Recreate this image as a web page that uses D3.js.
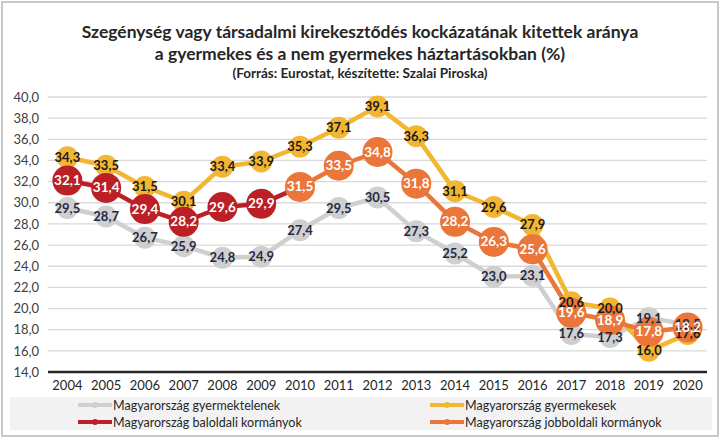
<!DOCTYPE html>
<html><head><meta charset="utf-8">
<script src="https://cdn.jsdelivr.net/npm/d3@7"></script>
<style>body{margin:0;background:#fff;font-family:Lato,"Open Sans",sans-serif}</style>
</head><body><svg id="c" width="720" height="438"></svg>
<script>
const years = ["2004","2005","2006","2007","2008","2009","2010","2011","2012","2013","2014","2015","2016","2017","2018","2019","2020"];
const childless = [29.5,28.7,26.7,25.9,24.8,24.9,27.4,29.5,30.5,27.3,25.2,23.0,23.1,17.6,17.3,19.1,18.5];
const withChildren = [34.3,33.5,31.5,30.1,33.4,33.9,35.3,37.1,39.1,36.3,31.1,29.6,27.9,20.6,20.0,16.0,17.6];
const leftYears = ["2004","2005","2006","2007","2008","2009"];
const leftGov = [32.1,31.4,29.4,28.2,29.6,29.9];
const rightYears = ["2010","2011","2012","2013","2014","2015","2016","2017","2018","2019","2020"];
const rightGov = [31.5,33.5,34.8,31.8,28.2,26.3,25.6,19.6,18.9,17.8,18.2];
const yTicks = [14,16,18,20,22,24,26,28,30,32,34,36,38,40];
const legendNames = ["Magyarország gyermektelenek","Magyarország gyermekesek","Magyarország baloldali  kormányok","Magyarország jobboldali  kormányok"];

const svg = d3.select("#c");
const fmt = v => d3.format(".1f")(v).replace(".", ",");
svg.append("rect").attr("x",2).attr("y",2).attr("width",716).attr("height",434)
  .attr("fill","#fff").attr("stroke","#c8c8c8").attr("stroke-width",2);

const x = d3.scaleBand().domain(years).range([48,707]);
const cx = d => x(d) + x.bandwidth()/2;
const y = d3.scaleLinear().domain([14,40]).range([372,97]);

// title
const t = svg.append("g").attr("font-weight","bold").attr("fill","#262626").attr("text-anchor","middle");
t.append("text").attr("x",360).attr("y",38).attr("font-size",17.5).text("Szegénység vagy társadalmi kirekesztődés kockázatának kitettek aránya");
t.append("text").attr("x",360).attr("y",60).attr("font-size",17.5).text("a gyermekes és a nem gyermekes háztartásokban (%)");
t.append("text").attr("x",360).attr("y",78).attr("font-size",13.5).text("(Forrás: Eurostat, készítette: Szalai Piroska)");

// grid
svg.append("g").selectAll("line").data(yTicks.filter(v=>v>14)).join("line")
  .attr("x1",48).attr("x2",707).attr("y1",d=>y(d)).attr("y2",d=>y(d))
  .attr("stroke","#d9d9d9").attr("stroke-width",1.3);
svg.append("line").attr("x1",48).attr("x2",707).attr("y1",y(14)).attr("y2",y(14)).attr("stroke","#262626").attr("stroke-width",2.5);

const yAxis = d3.axisLeft(y).tickValues(yTicks).tickFormat(fmt).tickSize(0).tickPadding(0);
const ga = svg.append("g").attr("transform","translate(39,0)").call(yAxis);
ga.select(".domain").remove();
ga.selectAll("text").attr("font-size",13).attr("fill","#404040").attr("font-family","Lato,sans-serif");

const xAxis = d3.axisBottom(x).tickSize(0).tickPadding(0);
const gx = svg.append("g").attr("transform","translate(0,381)").call(xAxis);
gx.select(".domain").remove();
gx.selectAll("text").attr("font-size",13).attr("fill","#262626").attr("font-family","Lato,sans-serif");

const line = d3.line().x(d=>cx(d[0])).y(d=>y(d[1]));
const series = [
  {yrs: years, vals: childless, color:"#cfcfcf", r:11, lab:"#1f2a44", fs:13},
  {yrs: years, vals: withChildren, color:"#f2b632", r:11, lab:"#1a1a1a", fs:13},
  {yrs: leftYears, vals: leftGov, color:"#bb2026", r:15, lab:"#ffffff", fs:13.5, lineExtra:[["2010",31.5]]},
  {yrs: rightYears, vals: rightGov, color:"#ea7639", r:15, lab:"#ffffff", fs:13.5}
];
series.forEach(s=>{
  const pts = s.yrs.map((yr,i)=>[yr,s.vals[i]]).concat(s.lineExtra||[]);
  svg.append("path").attr("d",line(pts)).attr("fill","none").attr("stroke",s.color).attr("stroke-width",4.5).attr("stroke-linejoin","round");
});
series.forEach(s=>{
  svg.append("g").selectAll("circle").data(s.vals).join("circle")
    .attr("cx",(d,i)=>cx(s.yrs[i])).attr("cy",d=>y(d)).attr("r",s.r).attr("fill",s.color);
});
series.forEach(s=>{
  svg.append("g").selectAll("text").data(s.vals).join("text")
    .attr("x",(d,i)=>cx(s.yrs[i])).attr("y",d=>y(d)+4.5).attr("text-anchor","middle")
    .attr("font-size",s.fs).attr("font-weight","bold").attr("fill",s.lab).text(fmt);
});

// legend
svg.append("rect").attr("x",10).attr("y",397).attr("width",702).attr("height",33).attr("fill","#f2f2f2");
const lpos = [[78,405],[430,405],[78,422],[430,422]];
series.forEach((s,i)=>{
  const [lx,ly]=lpos[i];
  svg.append("line").attr("x1",lx).attr("x2",lx+34).attr("y1",ly).attr("y2",ly).attr("stroke",s.color).attr("stroke-width",4);
  svg.append("circle").attr("cx",lx+17).attr("cy",ly).attr("r",3).attr("fill",s.color);
  svg.append("text").attr("x",lx+35).attr("y",ly+4.5).attr("font-size",12.5).attr("fill","#262626").text(legendNames[i]);
});
</script></body></html>
